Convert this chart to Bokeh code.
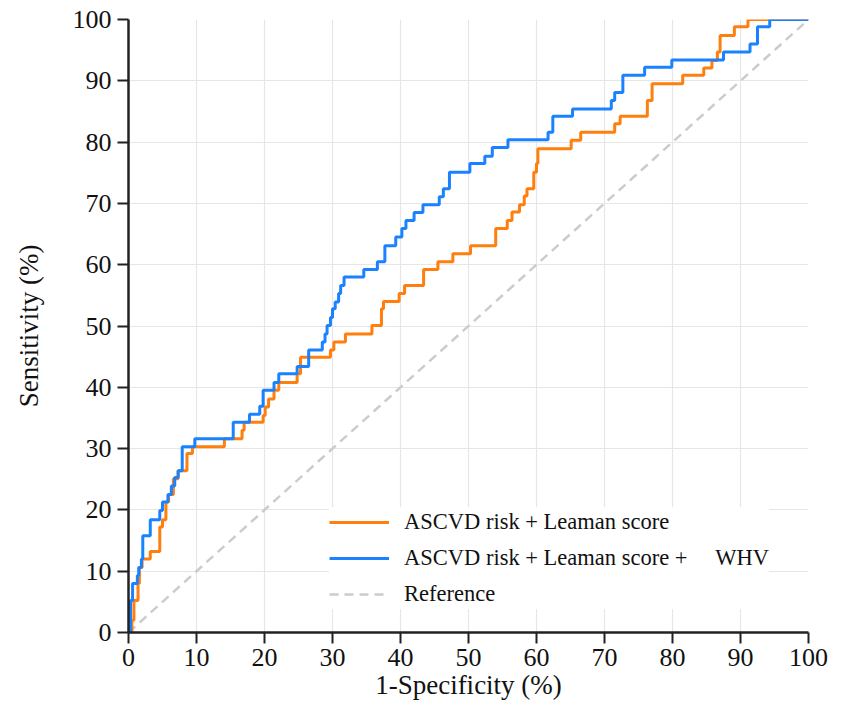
from bokeh.plotting import figure
from bokeh.models import Legend, LegendItem, FixedTicker
from bokeh.embed import file_html
from bokeh.resources import INLINE

# ROC step positions: x where the curve jumps, and the level after the jump (%)
orange_fpr = [0, 0.5, 0.8, 1.4, 1.6, 2.0, 3.2, 4.6, 5.0, 5.5, 5.9, 6.6, 7.3, 8.6, 9.4,
              14.1, 16.7, 17.0, 19.8, 20.1, 20.6, 21.4, 22.1, 24.8, 25.3, 29.7, 30.2,
              31.9, 35.8, 37.2, 37.5, 39.8, 40.6, 43.4, 45.5, 47.7, 50.3, 54.0, 55.7,
              56.4, 57.5, 58.2, 58.6, 59.6, 60.0, 60.2, 65.1, 66.5, 71.5, 72.3, 76.3,
              77.0, 81.5, 84.6, 85.8, 86.6, 87.0, 89.1, 91.1, 100]
orange_tpr = [0, 2.0, 5.2, 8.0, 10.6, 12.0, 13.2, 17.2, 18.4, 21.3, 22.5, 25.1, 26.4, 29.2, 30.3,
              31.6, 33.0, 34.3, 35.4, 36.8, 38.1, 39.5, 40.8, 42.2, 44.9, 46.1, 47.4,
              48.7, 50.1, 52.8, 54.0, 55.3, 56.6, 59.2, 60.5, 61.8, 63.1, 65.9, 67.2,
              68.6, 69.8, 71.2, 72.4, 75.1, 76.5, 78.9, 80.3, 81.6, 83.0, 84.2, 86.8,
              89.5, 90.9, 92.1, 93.3, 94.7, 97.4, 98.8, 100, 100]

blue_fpr = [0, 0.3, 0.6, 1.3, 1.5, 1.9, 2.1, 3.2, 4.6, 5.0, 5.8, 6.3, 6.8, 7.3, 7.9, 9.75,
            15.4, 17.8, 19.3, 19.8, 21.4, 22.1, 24.8, 26.5, 28.5, 28.9, 29.2, 29.7, 30.0,
            30.4, 30.9, 31.2, 31.7, 34.6, 36.6, 37.7, 39.3, 40.2, 40.8, 42.0, 43.3, 45.7,
            46.3, 47.2, 50.2, 52.4, 53.5, 55.8, 61.7, 62.4, 65.3, 71.0, 71.5, 72.7, 75.9,
            79.9, 87.5, 91.4, 92.5, 94.3, 100]
blue_tpr = [0, 5.2, 8.0, 9.3, 10.6, 12.0, 15.8, 18.4, 19.9, 21.3, 22.5, 23.9, 25.3, 26.4, 30.3, 31.6,
            34.3, 35.6, 36.9, 39.5, 40.8, 42.2, 43.4, 46.1, 47.4, 48.7, 50.1, 51.4, 52.8,
            53.9, 55.3, 56.6, 58.0, 59.2, 60.5, 63.1, 64.5, 65.9, 67.2, 68.5, 69.8, 71.1,
            72.4, 75.1, 76.5, 77.7, 79.1, 80.4, 81.6, 84.2, 85.4, 86.8, 88.1, 90.9, 92.2,
            93.4, 94.7, 96.0, 98.8, 100, 100]

ref_x = [0, 100]
ref_y = [0, 100]

ticks = [0, 10, 20, 30, 40, 50, 60, 70, 80, 90, 100]
labels = ["ASCVD risk + Leaman score",
          "ASCVD risk + Leaman score +\u00a0\u00a0\u00a0\u00a0 WHV",
          "Reference"]

FONT = "'Liberation Serif', 'Times New Roman', serif"

p = figure(frame_width=680, frame_height=613, x_range=(0, 100), y_range=(0, 100),
           output_backend="svg", toolbar_location=None,
           min_border_left=128, min_border_right=25, min_border_top=19, min_border_bottom=82)
p.outline_line_color = None

for ax in (p.xaxis[0], p.yaxis[0]):
    ax.ticker = FixedTicker(ticks=ticks)
    ax.axis_line_color = "#222222"
    ax.axis_line_width = 2.5
    ax.major_tick_line_color = "#222222"
    ax.major_tick_line_width = 2
    ax.major_tick_out = 11
    ax.major_tick_in = 0
    ax.minor_tick_line_color = None
    ax.major_label_text_font = FONT
    ax.major_label_text_font_size = "26px"
    ax.major_label_text_color = "#111111"
    ax.axis_label_text_font = FONT
    ax.axis_label_text_font_size = "27px"
    ax.axis_label_text_font_style = "normal"
    ax.axis_label_text_color = "#111111"

p.xaxis.axis_label = "1-Specificity (%)"
p.yaxis.axis_label = "Sensitivity (%)"
p.xaxis.major_label_standoff = 5
p.yaxis.major_label_standoff = 6
p.xaxis.axis_label_standoff = 1
p.yaxis.axis_label_standoff = 26

p.xgrid.ticker = FixedTicker(ticks=ticks)
p.ygrid.ticker = FixedTicker(ticks=ticks)
p.grid.grid_line_color = "#e6e6e6"
p.grid.grid_line_width = 1.2

r_ref = p.line(ref_x, ref_y, line_color="#cccccc", line_width=2.5, line_dash="9 6")
r_or = p.step(orange_fpr, orange_tpr, mode="after", line_color="#ff7f0e", line_width=3)
r_bl = p.step(blue_fpr, blue_tpr, mode="after", line_color="#1a82ff", line_width=3)

legend = Legend(items=[LegendItem(label=labels[0], renderers=[r_or]),
                       LegendItem(label=labels[1], renderers=[r_bl]),
                       LegendItem(label=labels[2], renderers=[r_ref])],
                location=(201, 23))
legend.label_text_font = FONT
legend.label_text_font_size = "22.5px"
legend.label_text_color = "#111111"
legend.glyph_width = 60
legend.glyph_height = 30
legend.label_height = 30
legend.label_standoff = 15
legend.spacing = 6
legend.padding = 6
legend.margin = 0
legend.border_line_color = None
legend.background_fill_color = "white"
legend.background_fill_alpha = 1.0
p.add_layout(legend)

open("out.html", "w").write(file_html(p, INLINE))
